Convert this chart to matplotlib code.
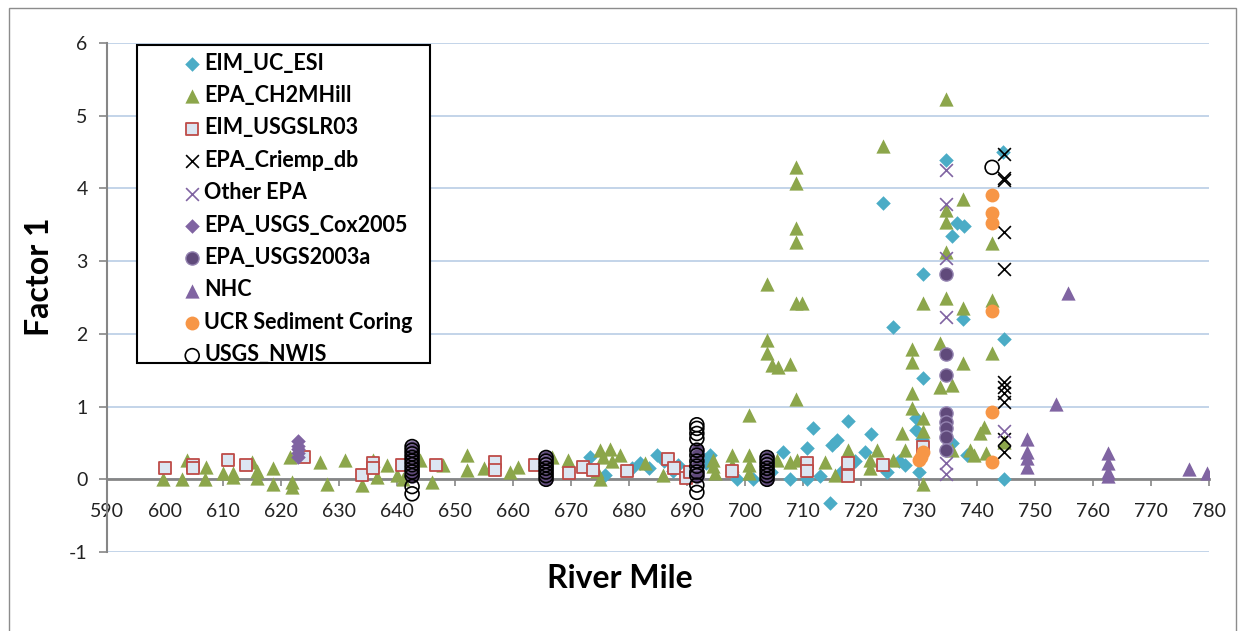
import matplotlib
matplotlib.use('Agg')
import matplotlib.pyplot as plt
import matplotlib.patches as patches

plt.rcParams['font.family'] = ['Lato', 'DejaVu Sans']
plt.rcParams['axes.unicode_minus'] = False

# ---- data (river mile, factor 1) ----
esi_mile = [673.3, 675.9, 680.5, 681.9, 683.5, 684.8, 686.0, 687.5, 688.5, 692.5,
            693.3, 694.0, 698.6, 701.4, 704.5, 706.6, 707.8, 710.7, 710.7, 711.7,
            713.0, 714.7, 715.0, 715.9, 716.5, 717.8, 719.0, 720.7, 721.7, 723.8,
            724.5, 725.5, 726.5, 727.5, 729.5, 729.5, 730.0, 730.5, 730.7, 730.7,
            734.7, 735.7, 735.7, 736.6, 737.6, 737.8, 738.3, 744.5, 744.7, 744.7]
esi_f1 = [0.30, 0.06, 0.15, 0.23, 0.15, 0.33, 0.25, 0.12, 0.20, 0.30,
          0.22, 0.33, 0.01, 0.01, 0.10, 0.37, 0.01, 0.43, 0.01, 0.70,
          0.05, -0.33, 0.47, 0.54, 0.10, 0.80, 0.25, 0.37, 0.62, 3.80,
          0.10, 2.10, 0.25, 0.19, 0.84, 0.68, 0.10, 0.55, 2.83, 1.39,
          4.39, 3.34, 0.50, 3.52, 2.21, 3.48, 0.33, 4.50, 1.93, 0.00]

ch2m_mile = [599.7, 603.8, 603.0, 607.0, 606.9, 610.0, 611.7, 611.7, 615.0, 615.9,
             615.9, 618.6, 618.6, 621.6, 621.9, 621.9, 626.7, 627.9, 631.0, 634.0,
             635.9, 636.5, 638.3, 640.0, 641.0, 644.0, 646.0, 648.0, 652.0, 652.0,
             655.0, 659.5, 660.8, 666.7, 669.5, 675.0, 676.7, 675.5, 677.0, 678.4,
             675.0, 674.5, 682.8, 685.9, 694.5, 694.5, 697.8, 697.8,
             694.8, 700.7, 700.7, 700.7, 700.7, 703.8, 703.8, 703.8, 704.7, 705.7,
             707.8, 708.8, 708.8, 708.8, 708.8, 708.8, 709.9, 708.8, 705.5, 707.8,
             709.0, 713.8, 715.5, 717.8, 721.6, 722.8, 721.6, 723.8,
             727.0, 727.5, 725.5, 728.8, 728.8, 728.8, 728.8, 730.7, 730.7, 730.7,
             730.7, 733.6, 733.6, 734.7, 734.7, 734.7, 734.7, 734.7, 735.7, 735.7,
             737.6, 737.6, 737.6, 738.8, 739.5, 740.5, 741.2, 741.5, 742.6, 742.6,
             742.6, 744.7]
ch2m_f1 = [0.00, 0.27, 0.00, 0.17, 0.00, 0.08, 0.08, 0.03, 0.24, 0.12,
           0.02, 0.15, -0.06, 0.30, -0.04, -0.10, 0.24, -0.06, 0.27, -0.08,
           0.27, 0.03, 0.20, 0.06, 0.00, 0.27, -0.04, 0.20, 0.33, 0.13,
           0.15, 0.10, 0.17, 0.30, 0.26, 0.40, 0.42, 0.30, 0.25, 0.33,
           0.01, 0.12, 0.22, 0.06, 0.26, 0.18, 0.33, 0.20,
           0.08, 0.33, 0.20, 0.09, 0.88, 2.68, 1.91, 1.74, 1.57, 1.54,
           1.58, 4.30, 4.08, 3.46, 3.26, 2.43, 2.43, 1.11, 0.26, 0.24,
           0.26, 0.24, 0.06, 0.40, 0.26, 0.40, 0.16, 4.58,
           0.63, 0.40, 0.26, 1.79, 1.61, 1.18, 0.98, 2.42, 0.84, 0.67,
           -0.06, 1.88, 1.27, 5.23, 3.71, 3.54, 3.12, 2.49, 1.29, 0.40,
           3.85, 2.35, 1.60, 0.40, 0.33, 0.63, 0.72, 0.36, 3.25, 2.46,
           1.73, 0.51]

lr03_mile = [600.0, 604.8, 604.8, 610.9, 614.0, 624.0, 634.0, 635.9, 635.9, 640.9,
             646.7, 656.9, 656.9, 663.8, 669.6, 672.0, 673.8, 679.7, 686.7, 687.8,
             689.8, 690.5, 697.8, 710.7, 710.7, 717.8, 717.8, 723.8, 730.7]
lr03_f1 = [0.15, 0.19, 0.16, 0.27, 0.19, 0.31, 0.06, 0.22, 0.15, 0.19,
           0.20, 0.24, 0.13, 0.19, 0.09, 0.17, 0.13, 0.12, 0.28, 0.15,
           0.02, 0.10, 0.12, 0.22, 0.11, 0.22, 0.05, 0.19, 0.45]

criemp_mile = [744.7] * 11
criemp_f1 = [4.47, 4.15, 4.12, 3.40, 2.89, 1.34, 1.27, 1.18, 1.06, 0.55, 0.37]

other_mile = [734.7, 734.7, 734.7, 734.7, 734.7, 734.7, 744.7]
other_f1 = [4.26, 3.78, 3.05, 2.23, 0.22, 0.07, 0.67]

cox_mile = [622.9] * 5
cox_f1 = [0.52, 0.46, 0.41, 0.36, 0.31]

usgs03_mile = [642.6] * 9 + [665.7] * 7 + [691.7] * 6 + [703.8] * 7 + [734.7] * 8
usgs03_f1 = [0.45, 0.40, 0.35, 0.30, 0.25, 0.20, 0.15, 0.10, 0.05,
             0.30, 0.25, 0.20, 0.15, 0.10, 0.05, 0.00,
             0.40, 0.33, 0.25, 0.18, 0.10, 0.05,
             0.30, 0.25, 0.20, 0.15, 0.10, 0.05, 0.00,
             2.82, 1.72, 1.43, 0.91, 0.79, 0.71, 0.58, 0.40]

nhc_mile = [748.6, 748.6, 748.6, 748.6, 753.6, 755.7, 762.6, 762.6, 762.6, 762.6, 776.6, 779.7]
nhc_f1 = [0.56, 0.37, 0.29, 0.17, 1.03, 2.56, 0.36, 0.22, 0.10, 0.05, 0.14, 0.08]

ucr_mile = [742.6, 742.6, 742.6, 742.6, 742.6, 742.6, 730.7, 730.4, 730.0]
ucr_f1 = [3.91, 3.66, 3.52, 2.32, 0.93, 0.24, 0.37, 0.30, 0.26]

nwis_mile = [642.6] * 11 + [665.7] * 7 + [691.7] * 12 + [703.8] * 7 + [742.6]
nwis_f1 = [0.45, 0.40, 0.35, 0.30, 0.25, 0.20, 0.15, 0.10, 0.05, -0.10, -0.20,
           0.30, 0.25, 0.20, 0.15, 0.10, 0.05, 0.00,
           0.75, 0.70, 0.63, 0.56, 0.40, 0.33, 0.25, 0.18, 0.10, 0.05, -0.08, -0.18,
           0.30, 0.25, 0.20, 0.15, 0.10, 0.05, 0.00,
           4.29]

W, H = 1245, 631
fig = plt.figure(figsize=(W / 100, H / 100), dpi=100)
ax = fig.add_axes([107 / W, 1 - 552 / H, (1209 - 107) / W, (552 - 43) / H])
ax.set_xlim(590, 780)
ax.set_ylim(-1, 6)

# outer chart border
fig.add_artist(patches.Rectangle((9 / W, -0.1), (1236 - 9) / W, 1 - 8 / H + 0.1,
                                 transform=fig.transFigure, fill=False,
                                 ec='#8C8C8C', lw=1))

# axes styling
gray = '#868686'
for s in ['top', 'right']:
    ax.spines[s].set_visible(False)
ax.spines['left'].set_color(gray)
ax.spines['bottom'].set_color(gray)
ax.spines['left'].set_linewidth(1.5)
ax.spines['bottom'].set_linewidth(2)
ax.spines['bottom'].set_position(('data', 0))
ax.set_xticks(range(590, 781, 10))
ax.set_yticks(range(-1, 7))
ax.tick_params(axis='x', direction='out', length=5, width=1.2, color=gray,
               labelsize=14, pad=12, labelcolor='#222222')
ax.tick_params(axis='y', direction='out', length=6, width=1.2, color=gray,
               labelsize=14, pad=8, labelcolor='#222222')
ax.yaxis.grid(True, color='#B9CDE5', lw=1.2)
ax.set_axisbelow(True)

# series
h = []
h.append(ax.scatter(esi_mile, esi_f1, marker='D', s=55, color='#4BACC6', lw=0, zorder=3, label='EIM_UC_ESI'))
h.append(ax.scatter(ch2m_mile, ch2m_f1, marker='^', s=105, color='#8CA64B', lw=0, zorder=3, label='EPA_CH2MHill'))
h.append(ax.scatter(lr03_mile, lr03_f1, marker='s', s=85, facecolor='#DCE6F2', edgecolor='#BE4B48', lw=1.3, zorder=3, label='EIM_USGSLR03'))
h.append(ax.scatter(criemp_mile, criemp_f1, marker='x', s=85, color='black', lw=1.2, zorder=3, label='EPA_Criemp_db'))
h.append(ax.scatter(other_mile, other_f1, marker='x', s=85, color='#8064A2', lw=1.2, zorder=3, label='Other EPA'))
h.append(ax.scatter(cox_mile, cox_f1, marker='D', s=55, color='#8064A2', lw=0, zorder=3, label='EPA_USGS_Cox2005'))
h.append(ax.scatter(usgs03_mile, usgs03_f1, marker='o', s=90, facecolor='#604A7B', edgecolor='#9483B0', lw=1, zorder=3, label='EPA_USGS2003a'))
h.append(ax.scatter(nhc_mile, nhc_f1, marker='^', s=105, color='#8064A2', lw=0, zorder=3, label='NHC'))
h.append(ax.scatter(ucr_mile, ucr_f1, marker='o', s=100, color='#F79646', lw=0, zorder=3, label='UCR Sediment Coring'))
h.append(ax.scatter(nwis_mile, nwis_f1, marker='o', s=100, facecolor='none', edgecolor='black', lw=1.2, zorder=3, label='USGS_NWIS'))

# legend box
ax.add_patch(patches.Rectangle((137 / W, 1 - 363 / H), 293 / W, 318 / H,
                               transform=fig.transFigure, fc='white', ec='black',
                               lw=1.5, zorder=5, clip_on=False))
leg = ax.legend(handles=h, loc='upper left', bbox_to_anchor=(175 / W, 1 - 44 / H),
                bbox_transform=fig.transFigure, frameon=False, handlelength=0.8,
                handletextpad=0.15, labelspacing=0.53, borderpad=0.4,
                borderaxespad=0, scatterpoints=1,
                prop={'size': 15.5, 'weight': 'bold'})
leg.set_zorder(6)

fig.text(40 / W, 1 - 277 / H, 'Factor 1', rotation=90, ha='center', va='center',
         fontsize=23, fontweight='bold')
fig.text(620 / W, 1 - 578 / H, 'River Mile', ha='center', va='center',
         fontsize=23, fontweight='bold')

fig.savefig('out.png', dpi=100)
